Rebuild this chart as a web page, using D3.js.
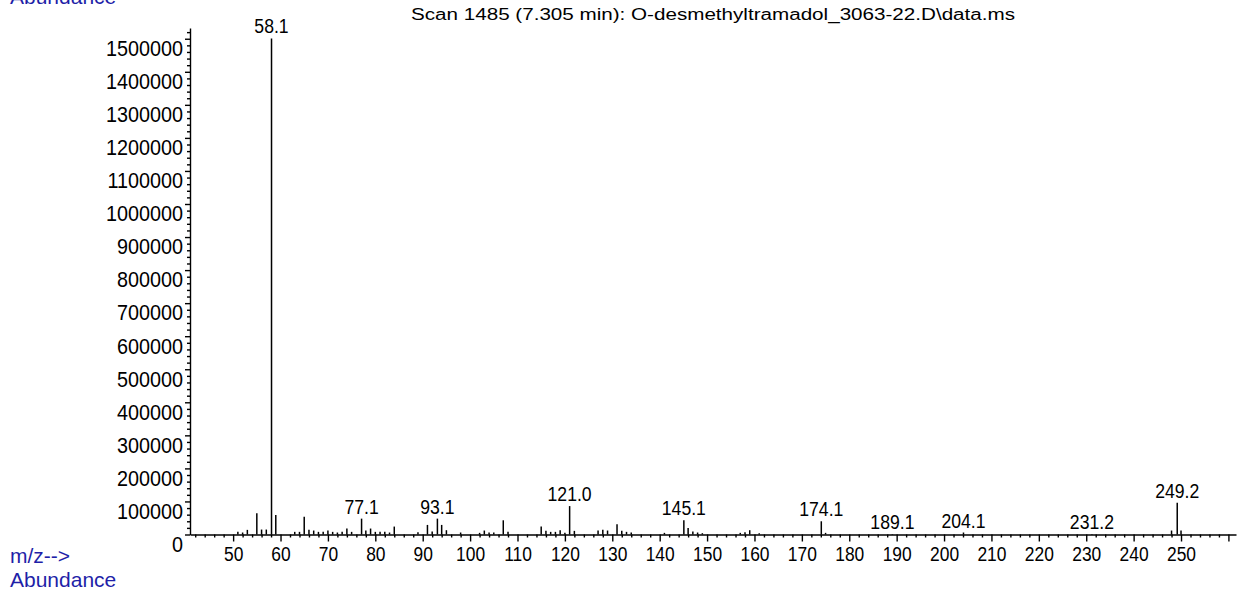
<!DOCTYPE html>
<html>
<head>
<meta charset="utf-8">
<script src="https://cdn.jsdelivr.net/npm/d3@7"></script>
<style>
  body { margin: 0; background: #fff; }
  svg text { fill: #000; }
</style>
</head>
<body>
<svg id="spectrum" width="1240" height="593"></svg>
<script>
// peaks (m/z, abundance)
const mzValues = [51, 52, 53, 55, 56, 57, 58.1, 59, 63, 64, 65, 66, 67, 68, 69, 70, 71, 72, 73, 74, 75,
  77.1, 78, 79, 80, 81, 82, 83, 84, 89, 91, 92, 93.1, 94, 95, 98, 102, 103, 104, 105, 107, 108,
  115, 116, 117, 118, 119, 120, 121.0, 122, 127, 128, 129, 131, 132, 133, 134, 141,
  145.1, 146, 147, 148, 149, 157, 158, 159, 161, 174.1, 175, 189.1, 204.1, 231.2, 248, 249.2, 250];
const abundances = [8000, 6000, 14000, 64000, 15000, 15000, 1501000, 59000, 8000, 8000, 54000, 14000, 12000, 8000, 8000, 12000, 8000, 6000, 8000, 18000, 8000,
  48000, 12000, 18000, 8000, 8000, 8000, 6000, 24000, 7000, 29000, 9000, 48000, 29000, 13000, 6000, 5000, 12000, 6000, 6000, 43000, 8000,
  24000, 11000, 8000, 8000, 13000, 5000, 86000, 11000, 12000, 14000, 12000, 31000, 11000, 8000, 6000, 5000,
  43000, 20000, 9000, 6000, 4000, 5000, 7000, 13000, 4000, 40000, 5000, 1500, 6000, 1500, 12000, 96000, 12000];
const labeledPeaks = [58.1, 77.1, 93.1, 121.0, 145.1, 174.1, 189.1, 204.1, 231.2, 249.2];

const xTickLabels = [50, 60, 70, 80, 90, 100, 110, 120, 130, 140, 150, 160, 170, 180, 190, 200, 210, 220, 230, 240, 250];
const yTickLabels = [0, 100000, 200000, 300000, 400000, 500000, 600000, 700000, 800000, 900000, 1000000,
  1100000, 1200000, 1300000, 1400000, 1500000];

const titleText = "Scan 1485 (7.305 min): O-desmethyltramadol_3063-22.D\\data.ms";

const peaks = mzValues.map((mz, i) => ({mz: mz, ab: abundances[i]}));

let svg = d3.select("#spectrum");
let font = "'Liberation Sans', Arial, sans-serif";
let blue = "#1f1fa8";

let x = d3.scaleLinear().domain([40.9, 261.6]).range([190, 1236]);
let y = d3.scaleLinear().domain([0, 1532500]).range([534.5, 28]);

// the instrument font is tall and narrow, so squeeze the glyphs sideways
let ySqueeze = 0.9, xSqueeze = 0.87, peakSqueeze = 0.84;

//#region axes
let xMinor = d3.range(42, 262, 2).filter(v => v % 10 != 0);
let xMajor = xTickLabels.concat([260]);

svg.append("g")
  .attr("transform", "translate(0," + y(0) + ")")
  .call(d3.axisBottom(x).tickValues(xMinor).tickSize(3).tickSizeOuter(0).tickFormat(""))
  .call(g => g.selectAll("line,path").attr("stroke-width", 1.4));

svg.append("g")
  .attr("transform", "translate(0," + y(0) + ")")
  .call(d3.axisBottom(x).tickValues(xMajor).tickSize(7).tickSizeOuter(0)
    .tickFormat(d => xTickLabels.includes(d) ? d : ""))
  .call(g => g.select(".domain").remove())
  .call(g => g.selectAll("line").attr("stroke-width", 1.4))
  .call(g => g.selectAll("text")
    .attr("y", 12.5).attr("dy", "0.72em")
    .attr("transform", "scale(" + xSqueeze + ",1)")
    .attr("font-family", font).attr("font-size", 20));

let yMinor = d3.range(20000, 1532500, 20000).filter(v => v % 100000 != 0);

svg.append("g")
  .attr("transform", "translate(190,0)")
  .call(d3.axisLeft(y).tickValues(yMinor).tickSize(3).tickSizeOuter(0).tickFormat(""))
  .call(g => g.selectAll("line,path").attr("stroke-width", 1.4));

svg.append("g")
  .attr("transform", "translate(190,0)")
  .call(d3.axisLeft(y).tickValues(yTickLabels).tickSize(5).tickPadding(2).tickFormat(d3.format("d")))
  .call(g => g.select(".domain").remove())
  .call(g => g.selectAll("line").attr("stroke-width", 1.4))
  .call(g => g.selectAll("text")
    .attr("x", -7 / ySqueeze)
    .attr("y", 1).attr("dy", "0.72em")
    .attr("transform", "scale(" + ySqueeze + ",1)")
    .attr("font-family", font).attr("font-size", 22));
//#endregion

//#region peaks
svg.append("g").selectAll("line")
  .data(peaks)
  .join("line")
  .attr("x1", d => x(d.mz))
  .attr("x2", d => x(d.mz))
  .attr("y1", y(0))
  .attr("y2", d => y(d.ab))
  .attr("stroke", "#000")
  .attr("stroke-width", 1.5);

svg.append("g").selectAll("text")
  .data(peaks.filter(d => labeledPeaks.includes(d.mz)))
  .join("text")
  .attr("transform", d => "translate(" + x(d.mz) + "," + (y(d.ab) - 5) + ") scale(" + peakSqueeze + ",1)")
  .attr("text-anchor", "middle")
  .attr("font-family", font)
  .attr("font-size", 21)
  .text(d => d.mz.toFixed(1));
//#endregion

//#region titles
svg.append("text")
  .attr("x", 713)
  .attr("y", 20)
  .attr("text-anchor", "middle")
  .attr("font-family", font)
  .attr("font-size", 16)
  .attr("textLength", 604)
  .attr("lengthAdjust", "spacingAndGlyphs")
  .text(titleText);

svg.append("text")
  .attr("x", 10).attr("y", 3.5)
  .attr("font-family", font).attr("font-size", 21)
  .style("fill", blue)
  .text("Abundance");

svg.append("text")
  .attr("x", 10).attr("y", 563)
  .attr("font-family", font).attr("font-size", 21)
  .style("fill", blue)
  .text("m/z-->");

svg.append("text")
  .attr("x", 10).attr("y", 587)
  .attr("font-family", font).attr("font-size", 21)
  .style("fill", blue)
  .text("Abundance");
//#endregion
</script>
</body>
</html>
